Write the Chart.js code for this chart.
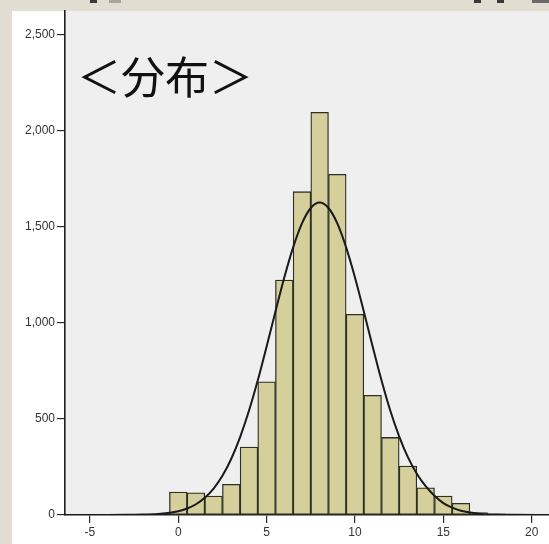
<!DOCTYPE html>
<html>
<head>
<meta charset="utf-8">
<script src="https://cdn.jsdelivr.net/npm/chart.js@4/dist/chart.umd.min.js"></script>
<style>
  html, body { margin: 0; padding: 0; background: #e2ddd1; }
  #wrap { position: absolute; left: 0; top: 0; width: 549px; height: 544px; overflow: hidden; background: #e2ddd1; }
  #panel { position: absolute; left: 12px; top: 11px; width: 537px; height: 533px; background: #ffffff; }
  #c { position: absolute; left: 0; top: 0; }
  #title { position: absolute; left: 77px; top: 53px; font-family: "Noto Sans CJK JP", sans-serif;
           font-size: 44px; line-height: 44px; color: #111; white-space: nowrap; }
  .tab { position: absolute; top: 0; height: 3px; }
</style>
</head>
<body>
<div id="wrap">
  <div id="panel"></div>
  <div class="tab" style="left:90px;width:7px;background:#3a3a3a"></div>
  <div class="tab" style="left:109px;width:12px;background:#a8a6a0"></div>
  <div class="tab" style="left:474px;width:7px;background:#3a3a3a"></div>
  <div class="tab" style="left:497px;width:7px;background:#3a3a3a"></div>
  <div class="tab" style="left:532px;width:17px;background:#6a6a6a"></div>
  <canvas id="c" width="549" height="544"></canvas>
  <div id="title">＜分布＞</div>
</div>
<script>
// Histogram bins (bin centres, width 1) and their frequencies
const binCenters = [0, 1, 2, 3, 4, 5, 6, 7, 8, 9, 10, 11, 12, 13, 14, 15, 16, 17, 18, 19];
const counts = [120, 116, 99, 160, 354, 694, 1224, 1684, 2097, 1774, 1045, 623, 404, 255, 142, 99, 61, 12, 6, 3];

// Points along the fitted normal curve
const curveX = [-6.4, -4, -3, -2, -1, 0, 0.5, 1, 1.5, 2, 2.5, 3, 3.5, 4, 4.5, 5, 5.5, 6, 6.5, 7, 7.5, 8,
                8.5, 9, 9.5, 10, 10.5, 11, 11.5, 12, 12.5, 13, 13.5, 14, 14.5, 15, 15.5, 16, 17, 18, 19, 21];
const curveY = [0, 0.5, 1, 2, 6, 20, 34, 56, 90, 138, 204, 293, 406, 543, 702, 878, 1060, 1237, 1394, 1519, 1599, 1627,
                1599, 1519, 1394, 1237, 1060, 878, 702, 543, 410, 300, 215, 150, 100, 62, 38, 22, 7, 2, 1, 0];

// Axis ticks
const xTicks = [-5, 0, 5, 10, 15, 20];
const yTicks = [0, 500, 1000, 1500, 2000, 2500];

const plotBackground = {
  id: 'plotBackground',
  beforeDraw(chart) {
    const { ctx, chartArea: a } = chart;
    ctx.save();
    ctx.fillStyle = '#efefef';
    ctx.fillRect(a.left, a.top, a.right - a.left, a.bottom - a.top);
    ctx.restore();
  }
};

const tickFont = { family: '"Liberation Sans", Arial, sans-serif', size: 12 };

new Chart(document.getElementById('c'), {
  type: 'bar',
  data: {
    datasets: [
      {
        type: 'line',
        order: 0,
        data: curveX.map((x, i) => ({ x, y: curveY[i] })),
        borderColor: '#1a1a1a',
        borderWidth: 2,
        pointRadius: 0,
        cubicInterpolationMode: 'monotone',
        fill: false
      },
      {
        type: 'bar',
        order: 1,
        data: binCenters.map((x, i) => ({ x, y: counts[i] })),
        backgroundColor: '#d4cf9b',
        borderColor: '#2e2e24',
        borderWidth: 1.3,
        borderSkipped: false,
        barPercentage: 1,
        categoryPercentage: 1
      }
    ]
  },
  options: {
    responsive: false,
    animation: false,
    devicePixelRatio: 1,
    layout: { padding: { top: 11, right: 0, left: 0, bottom: 0 } },
    plugins: { legend: { display: false }, tooltip: { enabled: false } },
    scales: {
      x: {
        type: 'linear',
        min: -6.41,
        max: 20.98,
        offset: false,
        afterBuildTicks: s => { s.ticks = xTicks.map(v => ({ value: v })); },
        afterFit: s => { s.height = 29; },
        grid: { offset: false, drawOnChartArea: false, drawTicks: true, tickLength: 8, color: '#2a2a2a', lineWidth: 1.2 },
        border: { color: '#1e1e1e', width: 1.6 },
        ticks: { padding: 2, color: '#333', font: tickFont, maxRotation: 0, autoSkip: false,
                 callback: v => String(v) }
      },
      y: {
        min: 0,
        max: 2625,
        afterBuildTicks: s => { s.ticks = yTicks.map(v => ({ value: v })); },
        afterFit: s => { s.width = 65; },
        grid: { drawOnChartArea: false, drawTicks: true, tickLength: 8, color: '#2a2a2a', lineWidth: 1.2 },
        border: { color: '#1e1e1e', width: 1.6 },
        ticks: { padding: 2, color: '#333', font: tickFont,
                 callback: v => v.toLocaleString('en-US') }
      }
    }
  },
  plugins: [plotBackground]
});
</script>
</body>
</html>
